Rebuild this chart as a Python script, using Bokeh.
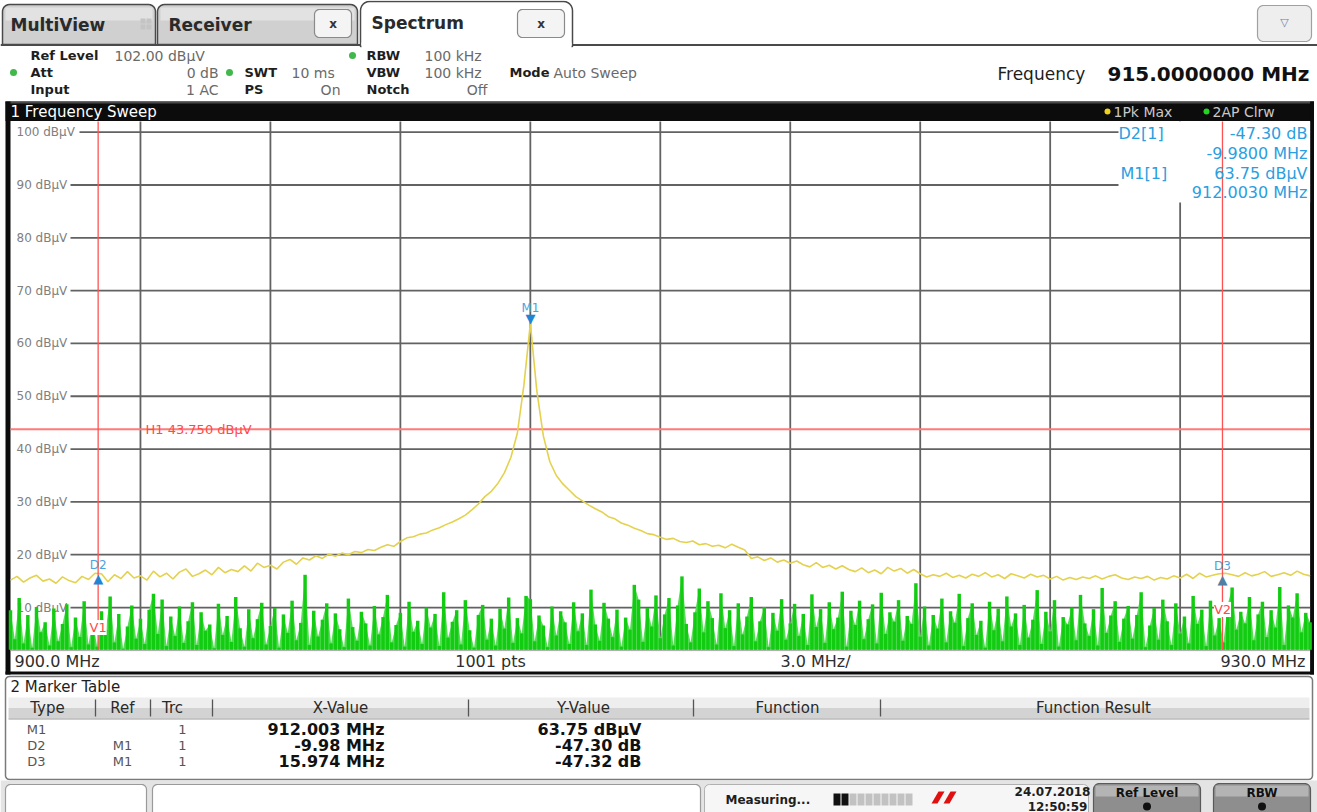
import numpy as np
from bokeh.plotting import figure
from bokeh.models import Range1d, Label
from bokeh.core.properties import value
from bokeh.embed import file_html
from bokeh.resources import INLINE

W, H = 1317, 812
FONT = "DejaVu Sans"

# ---------------- sweep setup ----------------
F_START, F_STOP = 900.0, 930.0        # MHz
REF_LEVEL, Y_SPAN = 102.0, 100.0       # dBuV, 10 dB/div
grid_levels = [10, 20, 30, 40, 50, 60, 70, 80, 90, 100]
grid_freqs = [903, 906, 909, 912, 915, 918, 921, 924, 927]
h1_level = 43.75

# Trace 1 - 1Pk Max (yellow), one reading every 0.15 MHz from 900 to 930 MHz
pk_max = [
    15.2, 15.9, 14.8, 15.6, 16.1, 15.0, 15.4, 14.6, 15.8, 15.1,
    14.7, 15.9, 15.3, 16.5, 16.4, 14.9, 16.2, 15.5, 16.8, 15.6,
    16.0, 15.2, 16.9, 15.8, 16.5, 15.4, 16.7, 17.3, 15.9, 16.4,
    17.1, 16.2, 17.6, 16.6, 17.2, 16.8, 17.9, 16.9, 18.4, 17.6,
    18.0, 17.3, 18.6, 19.1, 18.2, 19.4, 19.0, 19.8, 19.3, 20.1,
    19.7, 20.3, 20.0, 20.6, 20.4, 21.0, 20.8, 21.4, 21.9, 21.6,
    22.5, 23.2, 23.4, 23.9, 24.1, 24.7, 25.1, 25.7, 26.2, 26.8,
    27.5, 28.5, 29.6, 31.0, 32.0, 33.5, 35.5, 38.4, 43.0, 52.0,
    63.75,
    51.0, 42.5, 37.6, 35.0, 33.4, 32.2, 31.0, 30.2, 29.4, 28.7,
    28.1, 27.2, 26.8, 26.0, 25.6, 25.0, 24.6, 24.0, 23.8,
    23.3, 22.9, 23.1, 22.5, 22.3, 22.6, 21.9, 22.1, 21.6, 21.8,
    21.3, 22.0, 21.4, 20.9, 19.3, 19.6, 18.9, 19.4, 18.6, 19.0,
    18.4, 18.8, 18.1, 17.7, 18.5, 17.6, 18.0, 17.3, 17.9, 17.2,
    16.8, 17.5, 16.6, 17.1, 16.4, 17.6, 16.9, 17.4, 16.5, 17.2,
    16.4, 15.8, 16.2, 15.9, 16.5, 15.7, 16.1, 15.6, 16.3, 15.9,
    16.6, 15.8, 16.2, 15.5, 16.4, 16.0, 15.6, 16.3, 15.8, 16.1,
    15.4, 15.9, 15.2, 15.7, 15.3, 15.8, 15.5, 16.0, 15.4, 15.9,
    16.2, 15.6, 15.3, 15.8, 15.5, 15.9, 15.2, 15.7, 15.4, 16.0,
    15.6, 16.3, 15.5, 16.5, 15.8, 16.1, 16.4, 16.5, 16.2, 15.9,
    16.6, 16.0, 16.3, 16.8, 15.9, 16.2, 16.6, 16.1, 16.9, 16.3,
    16.0,
]

# Trace 2 - AP Clrw (green), one reading every 0.1 MHz from 900 to 930 MHz
ap_clrw = [
    9.5, 4.0, 11.8, 3.2, 8.6, 2.4, 10.1, 5.3, 7.2, 2.8,
    9.8, 3.6, 6.9, 10.6, 2.5, 8.1, 4.4, 11.2, 3.0, 7.6,
    2.6, 9.3, 5.8, 12.1, 3.4, 8.8, 2.2, 6.4, 10.4, 4.1,
    7.9, 3.1, 9.6, 12.6, 5.0, 11.5, 2.7, 8.3, 4.6, 10.2,
    3.3, 7.4, 11.0, 2.9, 9.1, 5.6, 6.8, 2.3, 10.7, 4.8,
    8.4, 3.5, 12.0, 6.1, 2.6, 9.7, 4.2, 7.8, 10.9, 3.0,
    6.5, 9.9, 2.4, 8.7, 5.2, 11.3, 3.8, 7.1, 16.2, 2.9,
    9.4, 4.5, 7.7, 10.8, 3.2, 8.9, 5.9, 2.5, 11.7, 6.3,
    3.7, 9.2, 7.0, 2.8, 10.3, 4.9, 8.2, 12.4, 3.4, 6.7,
    9.0, 2.6, 11.1, 5.4, 7.5, 3.1, 10.0, 6.2, 8.8, 2.7,
    12.9, 4.3, 7.3, 9.5, 3.0, 11.4, 5.7, 2.4, 8.6, 10.5,
    3.9, 7.9, 2.8, 9.8, 6.0, 11.9, 3.3, 8.0, 5.1, 12.2,
    11.6, 3.6, 8.5, 6.6, 2.5, 10.2, 4.7, 9.3, 7.2, 3.1,
    11.0, 5.5, 8.9, 2.9, 13.4, 6.8, 3.7, 10.9, 7.9, 4.4,
    9.6, 2.6, 8.1, 5.8, 14.3, 11.5, 3.5, 9.9, 6.4, 12.3,
    4.2, 8.7, 11.8, 2.8, 10.4, 15.9, 6.9, 3.4, 9.1, 13.6,
    5.3, 11.2, 8.0, 3.0, 12.7, 6.1, 9.5, 2.7, 10.8, 4.9,
    8.3, 12.0, 3.6, 7.4, 10.1, 2.5, 9.0, 5.6, 11.6, 3.9,
    7.0, 10.7, 4.6, 8.8, 2.9, 12.5, 6.3, 9.7, 3.3, 11.0,
    5.9, 8.1, 13.0, 2.6, 9.4, 6.7, 11.3, 4.0, 7.8, 10.6,
    3.2, 12.8, 5.0, 9.1, 7.3, 11.4, 3.7, 8.4, 6.9, 14.6,
    4.5, 10.2, 2.8, 8.6, 6.0, 11.7, 3.4, 9.3, 7.1, 12.6,
    2.7, 8.0, 10.8, 4.8, 7.5, 2.4, 11.1, 5.7, 9.8, 3.6,
    12.1, 6.4, 8.9, 2.9, 10.5, 4.3, 7.7, 13.3, 3.1, 9.2,
    5.5, 11.4, 2.6, 8.2, 6.8, 10.0, 3.8, 12.4, 7.0, 4.6,
    9.7, 2.8, 13.7, 5.2, 8.5, 11.2, 3.5, 7.9, 10.3, 4.1,
    8.6, 12.9, 2.5, 6.6, 9.9, 3.9, 11.5, 7.4, 2.9, 10.8,
    5.1, 8.3, 3.2, 12.2, 6.9, 9.6, 2.7, 11.3, 4.7, 8.0,
    3.4, 10.6, 13.8, 5.8, 9.2, 7.0, 12.0, 3.8, 8.7, 11.1,
    4.4, 9.5, 6.2, 13.9, 2.9, 10.4, 8.1, 12.7, 5.3, 9.0,
    7.2,
]

# Markers: M1 absolute, D2/D3 relative to M1
m1_freq, m1_level = 912.003, 63.75
delta_names = ["D2", "D3"]
delta_freq = [-9.98, 15.974]
delta_level = [-47.30, -47.32]
d_freq = [m1_freq + d for d in delta_freq]
d_level = [m1_level + d for d in delta_level]

# Marker table contents
tbl_type = ["M1", "D2", "D3"]
tbl_ref = ["", "M1", "M1"]
tbl_trc = ["1", "1", "1"]
tbl_x = [f"{m1_freq:.3f} MHz", f"{delta_freq[0]:.2f} MHz", f"{delta_freq[1]:.3f} MHz"]
tbl_y = [f"{m1_level:.2f} dBµV"] + [f"{d:.2f} dB" for d in delta_level]

# ---------------- screen geometry of the diagram ----------------
PLOT_L, PLOT_R = 10.0, 1309.6
PLOT_T, PLOT_B = 121.1, 649.3
px_per_mhz = (PLOT_R - PLOT_L) / (F_STOP - F_START)
px_per_db = (PLOT_B - PLOT_T) / Y_SPAN
BOTTOM_LEVEL = REF_LEVEL - Y_SPAN

p = figure(width=W, height=H, x_range=Range1d(0, W), y_range=Range1d(H, 0),
           min_border=0, toolbar_location=None, output_backend="svg",
           x_axis_location=None, y_axis_location=None, outline_line_color=None,
           background_fill_color="white", border_fill_color="white")
p.grid.visible = False
p.extra_x_ranges = {"mhz": Range1d(F_START - PLOT_L / px_per_mhz,
                                   F_START + (W - PLOT_L) / px_per_mhz)}
p.extra_y_ranges = {"db": Range1d(BOTTOM_LEVEL - (H - PLOT_B) / px_per_db,
                                  REF_LEVEL + PLOT_T / px_per_db)}
SP = dict(x_range_name="mhz", y_range_name="db")


def mhz_at(px):
    return F_START + (px - PLOT_L) / px_per_mhz


def db_at(py):
    return REF_LEVEL - (py - PLOT_T) / px_per_db


def t(x, y, s, size=14, color="#222222", bold=False, align="left", baseline="middle", **kw):
    p.text(x=[x], y=[y], text=[s], text_font=value(FONT), text_font_size=f"{size}px",
           text_color=color, text_font_style="bold" if bold else "normal",
           text_align=align, text_baseline=baseline, **kw)


def rbox(x0, y0, x1, y1, r_top, r_bot, **kw):
    xs, ys = [], []
    corners = [(x1 - r_top, y0 + r_top, -90, 0, r_top), (x1 - r_bot, y1 - r_bot, 0, 90, r_bot),
               (x0 + r_bot, y1 - r_bot, 90, 180, r_bot), (x0 + r_top, y0 + r_top, 180, 270, r_top)]
    for cx, cy, a0, a1, r in corners:
        for a in np.radians(np.linspace(a0, a1, 7)):
            xs.append(cx + r * np.cos(a))
            ys.append(cy + r * np.sin(a))
    p.patch(xs, ys, **kw)


# ---------------- tab strip ----------------
p.segment(x0=[0], y0=[44.5], x1=[W], y1=[44.5], line_color="#4a4a4a", line_width=2)
for x0, x1 in [(2, 155), (157, 357)]:
    rbox(x0, 4, x1, 44, 7, 0, fill_color="#d0d0d0", line_color="#4a4a4a", line_width=1.5)
    p.quad(left=[x0 + 3], right=[x1 - 3], top=[7], bottom=[20], fill_color="#e2e2e2", line_color=None)
rbox(360, 1, 572, 46, 9, 0, fill_color="white", line_color="#4a4a4a", line_width=1.5)
p.quad(left=[361], right=[571], top=[42], bottom=[48], fill_color="white", line_color=None)
t(10, 24, "MultiView", 17, "#2a2a2a", True)
p.quad(left=[140, 146, 140, 146], right=[145, 151, 145, 151], top=[18, 18, 24, 24],
       bottom=[23, 23, 29, 29], fill_color="#c4c4c4", line_color=None)
t(168, 24, "Receiver", 17, "#2a2a2a", True)
t(371, 22, "Spectrum", 17, "#2a2a2a", True)
for x0, x1 in [(314, 351), (517, 564)]:
    rbox(x0, 9, x1, 37, 5, 5, fill_color="#f4f4f4", line_color="#8a8a8a", line_width=1.2)
    t((x0 + x1) / 2, 23, "x", 12, "#333333", True, "center")
rbox(1257, 5, 1311, 41, 6, 6, fill_color="#eeeeee", line_color="#a0a0a0", line_width=1.2)
t(1284, 22, "▽", 11, "#6d7fa6", False, "center")

# ---------------- settings header ----------------
LAB, VAL = "#1e1e1e", "#6a6a6a"
for cx, cy in [(13, 72), (229, 72), (352, 55)]:
    p.circle(x=[cx], y=[cy], radius=3.5, fill_color="#41b84b", line_color=None)
t(30, 55, "Ref Level", 13, LAB, True)
t(114, 55, "102.00 dBµV", 14, VAL)
t(30, 72, "Att", 13, LAB, True)
t(218, 72, "0 dB", 14, VAL, align="right")
t(244, 72, "SWT", 13, LAB, True)
t(291, 72, "10 ms", 14, VAL)
t(30, 89, "Input", 13, LAB, True)
t(218, 89, "1 AC", 14, VAL, align="right")
t(244, 89, "PS", 13, LAB, True)
t(340, 89, "On", 14, VAL, align="right")
t(366, 55, "RBW", 13, LAB, True)
t(424, 55, "100 kHz", 14, VAL)
t(366, 72, "VBW", 13, LAB, True)
t(424, 72, "100 kHz", 14, VAL)
t(366, 89, "Notch", 13, LAB, True)
t(487, 89, "Off", 14, VAL, align="right")
t(509, 72, "Mode", 13, LAB, True)
t(553, 72, "Auto Sweep", 14, VAL)
t(997, 73, "Frequency", 17, "#1e1e1e")
t(1309, 73, "915.0000000 MHz", 20, "#111111", True, "right")

# ---------------- diagram title bar and frame ----------------
p.quad(left=[5], right=[1313.5], top=[101], bottom=[120.5], fill_color="#0c0c0c", line_color=None)
p.quad(left=[5], right=[1313.5], top=[101], bottom=[103], fill_color="#4a4a4a", line_color=None)
t(10, 111.5, "1 Frequency Sweep", 15, "white")
p.circle(x=[1107, 1206], y=[111, 111], radius=3, fill_color=["#f2d21b", "#24d424"], line_color=None)
t(1113, 111.5, "1Pk Max", 14, "#c8c8c8")
t(1212, 111.5, "2AP Clrw", 14, "#c8c8c8")
p.quad(left=[5, PLOT_R, 5], right=[PLOT_L, 1313.5, 1313.5], top=[101, 101, 671],
       bottom=[674, 674, 674], fill_color="#0c0c0c", line_color=None)
p.segment(x0=[PLOT_L], y0=[PLOT_B + 0.8], x1=[PLOT_R], y1=[PLOT_B + 0.8], line_color="#a8a8a8", line_width=1)

# ---------------- diagram content (MHz / dBuV scales) ----------------
GRID = "#626262"
label_end = {100: 79.0}
p.segment(x0=[mhz_at(label_end.get(lv, 70.0)) for lv in grid_levels], y0=grid_levels,
          x1=[F_STOP] * len(grid_levels), y1=grid_levels, line_color=GRID, line_width=1.8, **SP)
p.segment(x0=grid_freqs, y0=[BOTTOM_LEVEL] * len(grid_freqs), x1=grid_freqs,
          y1=[REF_LEVEL] * len(grid_freqs), line_color=GRID, line_width=1.8, **SP)
p.text(x=[mhz_at(16)] * len(grid_levels), y=grid_levels,
       text=[f"{lv} dBµV" for lv in grid_levels], text_font=value(FONT), text_font_size="12px",
       text_color="#808080", text_baseline="middle", **SP)

# marker info field in the upper right corner
p.quad(left=[mhz_at(1118)], right=[F_STOP], top=[REF_LEVEL], bottom=[db_at(202)],
       fill_color="white", line_color=None, **SP)

# display line H1
p.segment(x0=[F_START], y0=[h1_level], x1=[F_STOP], y1=[h1_level],
          line_color="#ff7a7a", line_width=2, **SP)
p.text(x=[mhz_at(145)], y=[h1_level], text=[f"H1  {h1_level:.3f} dBµV"], text_font=value(FONT),
       text_font_size="13px", text_color="#ff4a4a", text_baseline="middle", **SP)

# traces
f_pk = np.linspace(F_START, F_STOP, len(pk_max))
f_ap = np.linspace(F_START, F_STOP, len(ap_clrw))
step_ap = (F_STOP - F_START) / (len(ap_clrw) - 1)
p.varea(x=f_ap, y1=[BOTTOM_LEVEL] * len(ap_clrw), y2=ap_clrw, fill_color="#58dc58", fill_alpha=1.0, **SP)
p.vbar(x=f_ap, width=step_ap * 0.8, bottom=BOTTOM_LEVEL, top=ap_clrw,
       fill_color="#12cc12", line_color=None, **SP)
p.line(f_pk, pk_max, line_color="#e4d24e", line_width=1.6, **SP)

# vertical lines at the delta markers
p.segment(x0=d_freq, y0=[BOTTOM_LEVEL] * 2, x1=d_freq, y1=[REF_LEVEL] * 2,
          line_color="#ff5252", line_width=1.3, **SP)
for name, f, py in [("V1", d_freq[0], 627), ("V2", d_freq[1], 609)]:
    p.add_layout(Label(x=f, y=db_at(py), text=name, text_font=FONT, text_font_size="13px",
                       text_color="#ff4a4a", text_align="center", text_baseline="middle",
                       background_fill_color="white", **SP))

# marker symbols
p.text(x=[m1_freq], y=[m1_level], text=["▼"], text_font=value(FONT), text_font_size="13px",
       text_color="#1f86d6", text_align="center", text_baseline="bottom", y_offset=2, **SP)
p.text(x=[m1_freq], y=[m1_level], text=["M1"], text_font=value(FONT), text_font_size="12px",
       text_color="#4aa3e0", text_align="center", text_baseline="bottom", y_offset=-9, **SP)
p.text(x=d_freq, y=d_level, text=["▲", "▲"], text_font=value(FONT), text_font_size="13px",
       text_color=["#1f86d6", "#4f7fa3"], text_align="center", text_baseline="top", y_offset=-2, **SP)
p.text(x=d_freq, y=d_level, text=delta_names, text_font=value(FONT), text_font_size="12px",
       text_color="#4aa3e0", text_align="center", text_baseline="bottom", y_offset=-1, **SP)

# marker info text
BLUE = "#2a9ee0"
t(1118, 133, "D2[1]", 16, BLUE)
t(1307, 133, f"{delta_level[0]:.2f} dB", 16, BLUE, align="right")
t(1307, 153, f"{delta_freq[0]:.4f} MHz", 16, BLUE, align="right")
t(1120, 172.5, "M1[1]", 16, BLUE)
t(1307, 172.5, f"{m1_level:.2f} dBµV", 16, BLUE, align="right")
t(1307, 192, f"{m1_freq:.4f} MHz", 16, BLUE, align="right")

# scale annotations under the diagram
t(14, 661, f"{F_START:.1f} MHz", 16, "#2e2e2e")
t(490, 661, "1001 pts", 16, "#2e2e2e", align="center")
t(815, 661, f"{(F_STOP - F_START) / 10:.1f} MHz/", 16, "#2e2e2e", align="center")
t(1305, 661, f"{F_STOP:.1f} MHz", 16, "#2e2e2e", align="right")

# ---------------- marker table ----------------
rbox(5, 676, 1312, 779, 4, 4, fill_color="white", line_color="#7a7a7a", line_width=1.5)
t(10, 686, "2 Marker Table", 15, "#1e1e1e")
p.quad(left=[8], right=[1309], top=[697], bottom=[707.5], fill_color="#eeeeee", line_color=None)
p.quad(left=[8], right=[1309], top=[707.5], bottom=[718], fill_color="#d3d3d3", line_color=None)
p.segment(x0=[8], y0=[718.5], x1=[1309], y1=[718.5], line_color="#9a9a9a", line_width=1)
seps = [95, 150, 212, 468, 693, 880]
p.segment(x0=seps, y0=[699] * len(seps), x1=seps, y1=[716] * len(seps), line_color="#555555", line_width=1.3)
for cx, s in [(47, "Type"), (122, "Ref"), (172, "Trc"), (340, "X-Value"), (583, "Y-Value"),
              (787, "Function"), (1093, "Function Result")]:
    t(cx, 707.5, s, 15, "#2a2a2a", align="center")
for i, yy in enumerate([729, 745, 761]):
    t(36, yy, tbl_type[i], 13, "#555555", align="center")
    t(122, yy, tbl_ref[i], 13, "#555555", align="center")
    t(182, yy, tbl_trc[i], 13, "#555555", align="center")
    t(384, yy, tbl_x[i], 16, "#111111", True, "right")
    t(641, yy, tbl_y[i], 16, "#111111", True, "right")

# ---------------- status bar ----------------
p.quad(left=[0], right=[W], top=[780], bottom=[H], fill_color="#e4e4e4", line_color=None)
rbox(5, 784, 146, 816, 5, 0, fill_color="white", line_color="#9a9a9a", line_width=1.2)
rbox(152, 784, 700, 816, 5, 0, fill_color="white", line_color="#9a9a9a", line_width=1.2)
rbox(704, 784, 1088, 816, 5, 0, fill_color="#f6f6f6", line_color="#b0b0b0", line_width=1)
t(725, 799, "Measuring...", 12, "#1e1e1e", True)
seg_x = np.arange(833, 913, 8)
p.quad(left=seg_x, right=seg_x + 7, top=[793] * len(seg_x), bottom=[805] * len(seg_x),
       fill_color=["#111111", "#111111"] + ["#c2c2c2"] * (len(seg_x) - 2), line_color=None)
p.patch([931, 938, 944, 937], [803, 791, 791, 803], fill_color="#e01010", line_color=None)
p.patch([943, 950, 956, 949], [803, 791, 791, 803], fill_color="#e01010", line_color=None)
t(1052, 791, "24.07.2018", 12, "#1e1e1e", True, "center")
t(1057, 806, "12:50:59", 12, "#1e1e1e", True, "center")
for x0, x1, s in [(1093, 1200, "Ref Level"), (1213, 1310, "RBW")]:
    rbox(x0, 783, x1, 816, 6, 0, fill_color="#8e8e8e", line_color="#5a5a5a", line_width=1.2)
    p.quad(left=[x0 + 2], right=[x1 - 2], top=[785], bottom=[796], fill_color="#b4b4b4", line_color=None)
    t((x0 + x1) / 2, 792, s, 12, "#111111", True, "center")
    p.circle(x=[(x0 + x1) / 2], y=[806], radius=4, fill_color="#111111", line_color=None)

open("out.html", "w").write(file_html(p, INLINE))
